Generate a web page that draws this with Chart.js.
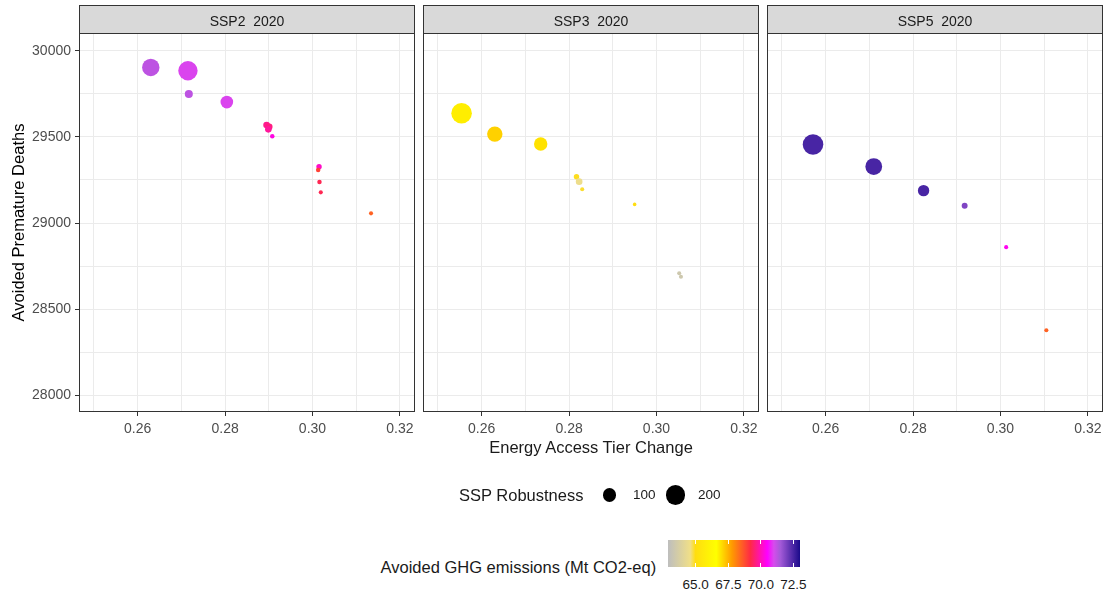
<!DOCTYPE html>
<html>
<head>
<meta charset="utf-8">
<script src="https://cdn.jsdelivr.net/npm/chart.js@4"></script>
<style>
  body { margin: 0; background: #fff; font-family: "Liberation Sans", Arial, sans-serif; }
  #wrap { position: relative; width: 1107px; height: 595px; overflow: hidden; }
  canvas { position: absolute; top: 0; }
  .txt { position: absolute; white-space: nowrap; color: #1a1a1a; line-height: 1; }
  .dot { position: absolute; background: #000; border-radius: 50%; }
</style>
</head>
<body>
<div id="wrap">
  <canvas id="p1" width="415" height="445" style="left:0px"></canvas>
  <canvas id="p2" width="336" height="445" style="left:423px"></canvas>
  <canvas id="p3" width="336" height="445" style="left:767px"></canvas>
  <div class="txt" id="xtitle" style="font-size:16.5px;">Energy Access Tier Change</div>
</div>
<script>
const panelLabels = ['SSP2  2020', 'SSP3  2020', 'SSP5  2020'];

// SSP2 2020
const ssp2Energy = [0.2630, 0.2715, 0.2717, 0.2804, 0.2895, 0.2901, 0.2899, 0.2908, 0.3015, 0.3013, 0.3016, 0.3019, 0.3134];
const ssp2Deaths = [29903, 29884, 29749, 29702, 29569, 29559, 29544, 29503, 29327, 29308, 29238, 29178, 29056];
const ssp2Robust = [164, 203, 35, 86, 24, 24, 24, 11, 16, 11, 11, 9, 9];
const ssp2Ghg    = [71.25, 70.95, 71.25, 70.95, 69.7, 69.6, 69.8, 70.3, 70.1, 68.9, 69.3, 69.3, 68.5];

// SSP3 2020
const ssp3Energy = [0.2554, 0.2630, 0.2735, 0.2817, 0.2823, 0.2830, 0.2950, 0.3052, 0.3056];
const ssp3Deaths = [29637, 29516, 29459, 29269, 29240, 29196, 29108, 28708, 28688];
const ssp3Robust = [229, 128, 97, 16, 24, 9, 7, 9, 9];
const ssp3Ghg    = [66.8, 67.15, 66.95, 64.95, 64.5, 64.9, 65.0, 63.4, 63.4];

// SSP5 2020
const ssp5Energy = [0.2571, 0.2710, 0.2824, 0.2918, 0.3013, 0.3105];
const ssp5Deaths = [29456, 29328, 29188, 29100, 28860, 28378];
const ssp5Robust = [229, 152, 70, 19, 9, 9];
const ssp5Ghg    = [72.5, 72.5, 72.5, 71.9, 70.4, 68.5];

// grid / tick positions (every other one is labelled)
const xGrid = [0.25, 0.26, 0.27, 0.28, 0.29, 0.30, 0.31, 0.32];
const yGrid = [28000, 28250, 28500, 28750, 29000, 29250, 29500, 29750, 30000];

// legend breaks
const sizeBreaks = [100, 200];
const ghgTicks = [65.0, 67.5, 70.0, 72.5];
const ghgRange = [62.9, 73.0];

// axis limits (shared by all facets)
const xRange = [0.24657, 0.32346];
const yRange = [27903, 30103];

// colour ramp for GHG
const ramp = [
  [62.9, '#BEBEBE'], [64.6, '#F0DF88'], [65.0, '#FFDD10'], [66.6, '#FFFF00'],
  [67.8, '#FF9A00'], [69.2, '#FF2A45'], [70.5, '#FF00FF'], [71.0, '#D64CEC'],
  [71.5, '#A45AD8'], [73.0, '#1A0A8A']
];

function hexRgb(h) {
  return [parseInt(h.slice(1, 3), 16), parseInt(h.slice(3, 5), 16), parseInt(h.slice(5, 7), 16)];
}

function ghgColour(v) {
  if (v <= ramp[0][0]) return ramp[0][1];
  for (let i = 1; i < ramp.length; i++) {
    if (v <= ramp[i][0]) {
      const t = (v - ramp[i - 1][0]) / (ramp[i][0] - ramp[i - 1][0]);
      const a = hexRgb(ramp[i - 1][1]), b = hexRgb(ramp[i][1]);
      const c = a.map((x, k) => Math.round(x + (b[k] - x) * t));
      return 'rgb(' + c.join(',') + ')';
    }
  }
  return ramp[ramp.length - 1][1];
}

// point radius from robustness (area ~ value)
function sizeR(v) {
  return 0.68 * Math.sqrt(v);
}

const isMajorX = v => Math.round(v * 100) % 2 === 0;
const isMajorY = v => Math.round(v) % 500 === 0;

// facet strip + panel frame
const stripPlugin = {
  id: 'strip',
  afterDraw(chart, args, opts) {
    const { ctx, chartArea: a } = chart;
    ctx.save();
    ctx.fillStyle = '#D9D9D9';
    ctx.fillRect(a.left, 5, a.right - a.left, a.top - 5);
    ctx.strokeStyle = '#333333';
    ctx.lineWidth = 1;
    ctx.strokeRect(a.left + 0.5, 5.5, a.right - a.left - 1, a.top - 5);
    ctx.strokeRect(a.left + 0.5, a.top + 0.5, a.right - a.left - 1, a.bottom - a.top - 1);
    ctx.fillStyle = '#1A1A1A';
    ctx.font = '14px "Liberation Sans", Arial, sans-serif';
    ctx.textAlign = 'center';
    ctx.textBaseline = 'alphabetic';
    ctx.fillText(opts.title, (a.left + a.right) / 2, 26);
    ctx.restore();
  }
};

const tickFont = { family: '"Liberation Sans", Arial, sans-serif', size: 14 };

function makePanel(id, label, energy, deaths, robust, ghg, showY) {
  const points = energy.map((x, i) => ({ x: x, y: deaths[i], r: sizeR(robust[i]) }));
  return new Chart(document.getElementById(id), {
    type: 'bubble',
    data: {
      datasets: [{
        data: points,
        backgroundColor: ghg.map(ghgColour),
        borderWidth: 0
      }]
    },
    options: {
      responsive: false,
      animation: false,
      events: [],
      layout: { autoPadding: false, padding: { top: 33, left: 0, right: 0, bottom: 0 } },
      plugins: {
        legend: { display: false },
        tooltip: { enabled: false },
        strip: { title: label }
      },
      scales: {
        x: {
          type: 'linear',
          min: xRange[0],
          max: xRange[1],
          border: { display: false },
          afterBuildTicks: s => { s.ticks = xGrid.map(v => ({ value: v })); },
          grid: {
            color: '#EBEBEB',
            tickLength: 4,
            tickColor: c => (isMajorX(c.tick.value) ? '#333333' : 'rgba(0,0,0,0)')
          },
          ticks: {
            autoSkip: false,
            maxRotation: 0,
            padding: 5,
            color: '#4D4D4D',
            font: tickFont,
            callback: v => (isMajorX(v) ? v.toFixed(2) : '')
          },
          afterFit: s => { s.height = 33; s.paddingLeft = 0; s.paddingRight = 0; }
        },
        y: {
          type: 'linear',
          min: yRange[0],
          max: yRange[1],
          border: { display: false },
          afterBuildTicks: s => { s.ticks = yGrid.map(v => ({ value: v })); },
          grid: {
            color: '#EBEBEB',
            drawTicks: showY,
            tickLength: 4,
            tickColor: c => (isMajorY(c.tick.value) ? '#333333' : 'rgba(0,0,0,0)')
          },
          ticks: {
            display: showY,
            autoSkip: false,
            padding: 4,
            color: '#4D4D4D',
            font: tickFont,
            callback: v => (isMajorY(v) ? String(v) : '')
          },
          title: {
            display: showY,
            text: 'Avoided Premature Deaths',
            color: '#000000',
            font: { family: '"Liberation Sans", Arial, sans-serif', size: 16.5 },
            padding: { top: 10, bottom: 0 }
          },
          afterFit: s => { s.width = showY ? 79 : 0; s.paddingTop = 0; s.paddingBottom = 0; }
        }
      }
    },
    plugins: [stripPlugin]
  });
}

makePanel('p1', panelLabels[0], ssp2Energy, ssp2Deaths, ssp2Robust, ssp2Ghg, true);
makePanel('p2', panelLabels[1], ssp3Energy, ssp3Deaths, ssp3Robust, ssp3Ghg, false);
makePanel('p3', panelLabels[2], ssp5Energy, ssp5Deaths, ssp5Robust, ssp5Ghg, false);

// ---- x title and legends ----
const wrap = document.getElementById('wrap');

function addText(text, size, x, y, align) {
  const d = document.createElement('div');
  d.className = 'txt';
  d.textContent = text;
  d.style.fontSize = size + 'px';
  d.style.left = x + 'px';
  d.style.top = y + 'px';
  const tx = align === 'center' ? '-50%' : '0';
  d.style.transform = 'translate(' + tx + ', -50%)';
  wrap.appendChild(d);
  return d;
}

const xt = document.getElementById('xtitle');
xt.style.left = '591px';
xt.style.top = '447px';
xt.style.transform = 'translate(-50%, -50%)';

// size legend
addText('SSP Robustness', 16.5, 459, 495, 'left');
const dotX = [609.7, 675.7];
const labX = [633, 698];
sizeBreaks.forEach((v, i) => {
  const r = sizeR(v);
  const d = document.createElement('div');
  d.className = 'dot';
  d.style.width = d.style.height = (2 * r) + 'px';
  d.style.left = (dotX[i] - r) + 'px';
  d.style.top = (495 - r) + 'px';
  wrap.appendChild(d);
  addText(String(v), 13.5, labX[i], 495, 'left');
});

// colour bar legend
addText('Avoided GHG emissions (Mt CO2-eq)', 16.5, 380.5, 567, 'left');
const bar = { left: 668.3, top: 540.3, width: 131.7, height: 26.4 };
const barEl = document.createElement('div');
barEl.style.position = 'absolute';
barEl.style.left = bar.left + 'px';
barEl.style.top = bar.top + 'px';
barEl.style.width = bar.width + 'px';
barEl.style.height = bar.height + 'px';
const span = ghgRange[1] - ghgRange[0];
barEl.style.background = 'linear-gradient(to right, ' +
  ramp.map(s => s[1] + ' ' + ((s[0] - ghgRange[0]) / span * 100).toFixed(2) + '%').join(', ') + ')';
wrap.appendChild(barEl);

ghgTicks.forEach(v => {
  const x = bar.left + (v - ghgRange[0]) / span * bar.width;
  [bar.top, bar.top + bar.height - 4].forEach(y => {
    const t = document.createElement('div');
    t.style.position = 'absolute';
    t.style.left = (x - 0.5) + 'px';
    t.style.top = y + 'px';
    t.style.width = '1px';
    t.style.height = '4px';
    t.style.background = '#fff';
    wrap.appendChild(t);
  });
  addText(v.toFixed(1), 13.5, x, 585, 'center');
});
</script>
</body>
</html>
